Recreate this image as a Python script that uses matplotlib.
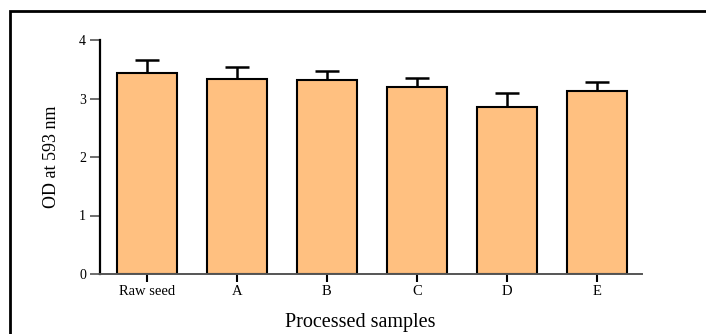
import numpy as np
import matplotlib as mpl
mpl.use('agg')
import matplotlib.pyplot as plt
from matplotlib.patches import Rectangle

samples = ['Raw seed', 'A', 'B', 'C', 'D', 'E']
od_mean = [3.43, 3.34, 3.31, 3.20, 2.85, 3.13]
od_err = [0.23, 0.20, 0.16, 0.15, 0.24, 0.16]

plt.rcParams['font.family'] = ['Liberation Serif', 'DejaVu Serif']

fig = plt.figure(figsize=(7.06, 3.34), dpi=100)
ax = fig.add_axes([100/706, 1 - 274/334, 542/706, 234/334])

x = np.arange(len(samples))
# upper error bars only, drawn behind the bars
eb = ax.errorbar(x, od_mean, yerr=[np.zeros(len(od_err)), od_err], fmt='none',
                 ecolor='black', elinewidth=1.8, capsize=8.5, capthick=1.8, zorder=1)
eb[1][0].set_visible(False)  # drop the lower caps
ax.bar(x, od_mean, width=0.667, color='#FFC080', edgecolor='black', linewidth=1.5,
       zorder=2)

ax.set_xlim(-0.52, 5.5)
ax.set_ylim(0, 4)
ax.set_yticks([0, 1, 2, 3, 4])
ax.set_xticks(x)
ax.set_xticklabels(samples, fontsize=10.5)
ax.tick_params(axis='y', labelsize=10, length=7, width=1.2, color='#555555', pad=3)
ax.tick_params(axis='x', length=6, width=1.5, color='black', pad=2)

for s in ['top', 'right']:
    ax.spines[s].set_visible(False)
ax.spines['left'].set_linewidth(1.6)
ax.spines['left'].set_color('black')
ax.spines['bottom'].set_linewidth(1.4)
ax.spines['bottom'].set_color('#555555')

ax.set_ylabel('OD at 593 nm', fontsize=13)
ax.yaxis.set_label_coords(-0.074, 0.5)
ax.set_xlabel('Processed samples', fontsize=14.5)
ax.xaxis.set_label_coords(0.48, -0.165)

# outer frame around the figure
fig.add_artist(Rectangle((10/706, -0.2), 1.2, 1.2 - 11/334, transform=fig.transFigure,
                         fill=False, edgecolor='black', linewidth=2))

fig.savefig('out.png', dpi=100)
